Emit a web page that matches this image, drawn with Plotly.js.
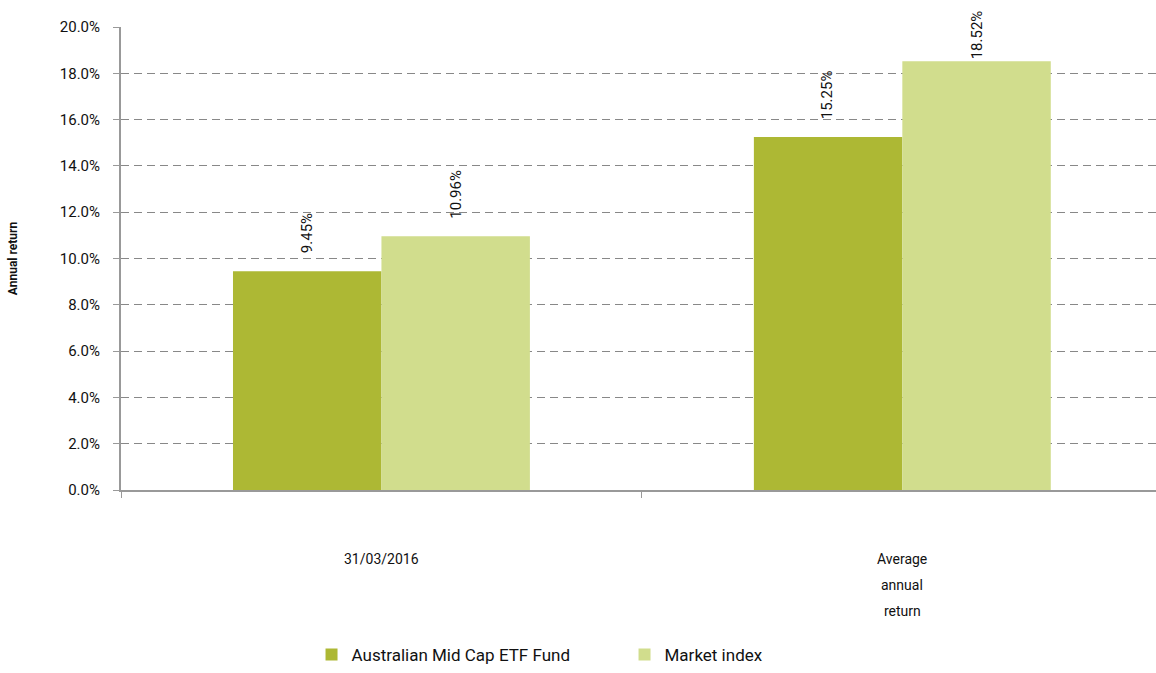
<!DOCTYPE html>
<html><head><meta charset="utf-8">
<script src="https://cdn.plot.ly/plotly-3.0.1.min.js"></script>
<style>html,body{margin:0;padding:0;background:#fff}#chart{width:1156px;height:673px}</style>
</head><body><div id="chart"></div>
<script>
const categories = ["31/03/2016", "Average<br>annual<br>return"];
const seriesNames = ["Australian Mid Cap ETF Fund", "Market index"];
const fundValues = [9.45, 15.25];
const indexValues = [10.96, 18.52];
const yTickVals = [0, 2, 4, 6, 8, 10, 12, 14, 16, 18, 20];
const yTickText = yTickVals.map(v => v.toFixed(1) + "%");

const colors = ["#adb834", "#d1dd8d"];
const font = "Roboto, 'Noto Sans', sans-serif";
const allSeries = [fundValues, indexValues];

const traces = allSeries.map((vals, i) => ({
  type: "bar", name: seriesNames[i], x: [0, 1], y: vals,
  marker: {color: colors[i]}, hoverinfo: "none"
}));

const annotations = [];
const barOffset = 0.143;
const yMax = 20;
allSeries.forEach((vals, i) => {
  vals.forEach((v, j) => {
    const capped = v > 17.5;
    annotations.push({
      xref: "x", yref: "y", x: j + (i === 0 ? -barOffset : barOffset),
      y: capped ? yMax : v, text: v.toFixed(2) + "%", textangle: -90,
      showarrow: false, xanchor: "center", yanchor: capped ? "top" : "bottom",
      yshift: capped ? 19 : 16,
      font: {family: font, size: 15, color: "#111"}
    });
  });
});
categories.forEach((c, j) => {
  c.split("<br>").forEach((line, k) => {
    annotations.push({
      xref: "x", yref: "paper", x: j, y: 0, text: line, showarrow: false,
      xanchor: "center", yanchor: "middle", yshift: -69 - 26 * k,
      font: {family: font, size: 14, color: "#111"}
    });
  });
});

const layout = {
  width: 1156, height: 673,
  margin: {l: 121, r: 0, t: 27, b: 183},
  paper_bgcolor: "#fff", plot_bgcolor: "#fff",
  barmode: "group", bargap: 0.43, bargroupgap: 0,
  font: {family: font, size: 15, color: "#111"},
  showlegend: true,
  legend: {orientation: "h", x: 0.4865, xanchor: "center", y: -0.356, yanchor: "middle",
    font: {family: font, size: 17, color: "#111"}, entrywidth: 268, itemclick: false,
    traceorder: "normal"},
  xaxis: {type: "linear", range: [-0.5, 1.487], tickvals: [-0.5, 0.5, 1.5], showticklabels: false,
    ticks: "outside", ticklen: 6, tickcolor: "#999", showgrid: false, zeroline: false,
    showline: true, linecolor: "#999", linewidth: 2, fixedrange: true},
  yaxis: {range: [0, 20], tickvals: yTickVals, ticktext: yTickText,
    ticks: "outside", ticklen: 6, tickcolor: "#999", showline: true, linecolor: "#999", linewidth: 2,
    showgrid: true, gridcolor: "#888", griddash: "8px,5px", gridwidth: 1, zeroline: false,
    ticklabelstandoff: 10, tickfont: {family: font, size: 15, color: "#111"},
    title: {text: "<b>Annual return</b>", font: {family: font, size: 12, color: "#111"}, standoff: 40},
    fixedrange: true},
  annotations: annotations
};
Plotly.newPlot("chart", traces, layout, {staticPlot: true, displayModeBar: false});
</script></body></html>
